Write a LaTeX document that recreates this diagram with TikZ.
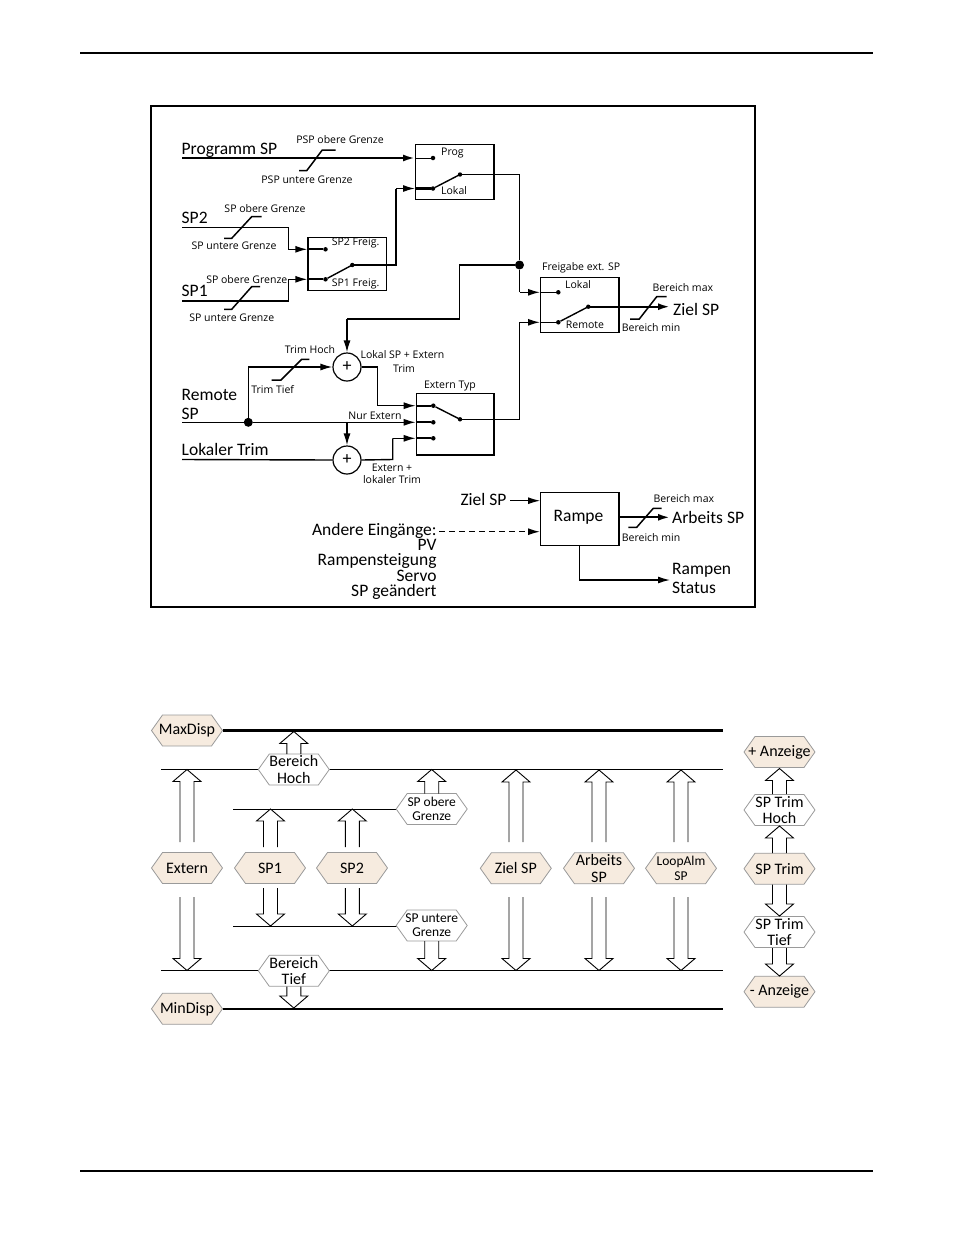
\documentclass[tikz,border=0pt]{standalone}
\usepackage{fontspec}
\setmainfont{Carlito}
\newfontfamily\smallf{Open Sans}
\usetikzlibrary{arrows.meta}
\definecolor{beige}{HTML}{F6EBDF}
\definecolor{hexline}{HTML}{9A9A9A}
\newcommand\hexnode[5]{%
  \filldraw[#4] ({#2-35.5},#3) -- ({#2-24.5},{#3-15.5}) -- ({#2+24.5},{#3-15.5}) -- ({#2+35.5},#3) -- ({#2+24.5},{#3+15.5}) -- ({#2-24.5},{#3+15.5}) -- cycle;
  \coordinate (#1-e) at ({#2+35.5},#3);
  \coordinate (#1-w) at ({#2-35.5},#3);
  \node[hextext] (#1) at (#2,#3) {#5};}
\newcommand\hollowup[3]{% x, tip y, bottom y
  \draw[hollow] ({#1-7},#3) -- ({#1-7},{#2+12}) -- ({#1-14},{#2+12}) -- (#1,#2) -- ({#1+14},{#2+12}) -- ({#1+7},{#2+12}) -- ({#1+7},#3);}
\newcommand\hollowdn[3]{% x, tip y, top y
  \draw[hollow] ({#1-7},#3) -- ({#1-7},{#2-12}) -- ({#1-14},{#2-12}) -- (#1,#2) -- ({#1+14},{#2-12}) -- ({#1+7},{#2-12}) -- ({#1+7},#3);}
\begin{document}
\begin{tikzpicture}[x=1pt,y=-1pt,
  frame/.style={line width=1.2pt},
  wire/.style={line width=1.4pt},
  fat/.style={line width=2.2pt},
  thinw/.style={line width=1pt},
  arr/.style={-{Latex[length=12pt,width=7pt]}},
  box/.style={draw,line width=1.2pt,inner sep=0,anchor=north west},
  lbl/.style={font=\smallf\fontsize{10.5}{12}\selectfont,inner sep=0},
  big/.style={font=\fontsize{17.5}{15}\selectfont,inner sep=0},
  bigml/.style={font=\fontsize{17.5}{15.4}\selectfont,inner sep=0},
  hextext/.style={font=\fontsize{16}{16.5}\selectfont,inner sep=0,align=center},
  hexb/.style={fill=beige,draw=hexline,line width=0.8pt},
  hexw/.style={fill=white,draw=hexline,line width=0.8pt},
  hollow/.style={line width=0.9pt,line join=miter},
  lim/.style={line width=1.5pt},
  cdot/.style={circle,fill,inner sep=0,minimum size=4.5pt},
  jdot/.style={circle,fill,inner sep=0,minimum size=9pt}]
\useasboundingbox (0,0) rectangle (954,1235);
% page rules
\draw[line width=1.2pt] (80,53) -- (873,53);
\draw[line width=1.2pt] (80,1171) -- (873,1171);
% frame
\draw[frame] (151,106) rectangle (755,607);

% boxes
\node[box,minimum width=78.3pt,minimum height=55pt] (progbox) at (415,144) {};
\node[box,minimum width=78.4pt,minimum height=53.3pt] (spbox) at (307.3,236.7) {};
\node[box,minimum width=78.3pt,minimum height=55pt] (fgbox) at (540,276.7) {};
\node[box,minimum width=77.6pt,minimum height=61.6pt] (extbox) at (415.7,392.7) {};
\node[box,minimum width=78.3pt,minimum height=53.3pt] (rampe) at (540,491.7) {};
\node[font=\fontsize{17.5}{15}\selectfont] at (578.5,517.3) {Rampe};

% contacts
\node[cdot] (progc) at (433,158) {};
\node[cdot] (lokc) at (433,188.5) {};
\coordinate (progpiv) at (460,174.5);
\node[cdot] (sp2c) at (325.5,249.3) {};
\node[cdot] (sp1c) at (325.5,279.3) {};
\coordinate (sppiv) at (352.3,265);
\node[cdot] (fglok) at (558.3,292.3) {};
\node[cdot] (fgrem) at (558.3,322.3) {};
\coordinate (fgpiv) at (588.3,306.7);
\node[cdot] (ex1) at (433.3,405.7) {};
\node[cdot] (ex2) at (433.3,422.3) {};
\node[cdot] (ex3) at (433.3,438.3) {};
\coordinate (expiv) at (460,419.3);
\fill (progpiv) circle (2.2pt) (sppiv) circle (2.2pt) (fgpiv) circle (2.2pt) (expiv) circle (2.2pt);
\draw[wire] (lokc) -- (progpiv);
\draw[wire] (sp1c) -- (sppiv);
\draw[wire] (fgrem) -- (fgpiv);
\draw[wire] (ex1) -- (expiv);

% sums
\node[draw,circle,line width=1.2pt,minimum size=28pt,inner sep=0,font=\fontsize{18}{18}\selectfont] (sum1) at (347,367) {+};
\node[draw,circle,line width=1.2pt,minimum size=28pt,inner sep=0,font=\fontsize{18}{18}\selectfont] (sum2) at (347,460) {+};
\node[jdot] (junc) at (519.5,265) {};
\node[jdot] (rjunc) at (248.3,422.3) {};

% Programm SP
\node[big,anchor=base west] at (181.5,154.5) {Programm SP};
\draw[fat,arr] (182,158) -- (415,158);
\draw[thinw] (415,158) -- (progc);
\draw[lim] (299,170.7) -- (306.7,170.7) -- (322.3,150) -- (335.7,150);
\node[lbl] at (340,140) {PSP obere Grenze};
\node[lbl] at (307,180) {PSP untere Grenze};
\node[lbl,anchor=west] at (441,153) {Prog};
\node[lbl,anchor=west] at (441,191) {Lokal};

% SP2 / SP1
\node[big,anchor=base west] at (181.5,223) {SP2};
\draw[wire] (182,227.7) -- (288.3,227.7) -- (288.3,249.3);
\draw[wire,arr] (288.3,249.3) -- (307.3,249.3);
\draw[fat] (307.3,249.3) -- (sp2c);
\draw[lim] (224,238.3) -- (231.7,238.3) -- (251.7,216.7) -- (261.7,216.7);
\node[lbl] at (265,209) {SP obere Grenze};
\node[lbl] at (234,246) {SP untere Grenze};
\node[big,anchor=base west] at (181.5,296.5) {SP1};
\draw[wire] (182,301) -- (288.3,301) -- (288.3,279.3);
\draw[wire,arr] (288.3,279.3) -- (307.3,279.3);
\draw[fat] (307.3,279.3) -- (sp1c);
\draw[lim] (224,309.3) -- (231.7,309.3) -- (251.7,286.7) -- (260,286.7);
\node[lbl] at (246.8,280) {SP obere Grenze};
\node[lbl] at (231.8,317.3) {SP untere Grenze};
\node[lbl,anchor=west] at (331.7,243.3) {SP2 Freig.};
\node[lbl,anchor=west] at (331.7,284.3) {SP1 Freig.};
\draw[wire] (sppiv) -- (396,265) -- (396,188.5);
\draw[wire,arr] (396,188.5) -- (415,188.5);
\draw[fat] (415,188.5) -- (lokc);

% prog output to Freigabe
\draw[wire] (progpiv) -- (519.5,174.5) -- (junc) -- (519.5,292.3);
\draw[wire,arr] (519.5,292.3) -- (540,292.3);
\draw[thinw] (540,292.3) -- (fglok);
\node[lbl] at (581.2,268) {Freigabe ext. SP};
\node[lbl,anchor=west] at (565,285) {Lokal};
\node[lbl,anchor=west] at (565.7,324.3) {Remote};
\draw[fat,arr] (fgpiv) -- (670,306.7);
\draw[lim] (630,319) -- (639.3,319) -- (656.7,296.7) -- (666.7,296.7);
\node[lbl,anchor=west] at (652.3,288) {Bereich max};
\node[lbl,anchor=west] at (621.7,327.3) {Bereich min};
\node[big,anchor=base west] at (673,315) {Ziel SP};

% local SP feedback to sum1
\draw[wire] (junc) -- (459.3,265) -- (459.3,319) -- (347,319);
\draw[wire,arr] (347,319) -- (sum1.north);

% Remote SP
\node[bigml,anchor=base west,align=left] at (181.5,419) {Remote\\[3.5pt]SP};
\draw[wire] (182,422.3) -- (rjunc);
\draw[wire,arr] (rjunc) -- (415.7,422.3);
\draw[fat] (415.7,422.3) -- (ex2);
\draw[wire] (rjunc) -- (248.3,367);
\draw[wire,arr] (248.3,367) -- (sum1.west);
\draw[lim] (271.7,380) -- (281,380) -- (301.7,359.3) -- (309.3,359.3);
\node[lbl] at (310,349.3) {Trim Hoch};
\node[lbl] at (272.7,389.3) {Trim Tief};
\node[lbl] at (402.5,355) {Lokal SP + Extern};
\node[lbl] at (404,368.3) {Trim};
\draw[wire] (sum1.east) -- (377.7,367) -- (377.7,405.7);
\draw[wire,arr] (377.7,405.7) -- (415.7,405.7);
\draw[fat] (415.7,405.7) -- (ex1);
\node[lbl] at (375,416) {Nur Extern};
\draw[wire,arr] (347,422.3) -- (sum2.north);
\node[big,anchor=base west] at (181.5,455) {Lokaler Trim};
\draw[wire] (182,459.5) -- (sum2.west);
\draw[wire] (sum2.east) -- (392.7,459.5) -- (392.7,438.3);
\draw[wire,arr] (392.7,438.3) -- (415.7,438.3);
\draw[fat] (415.7,438.3) -- (ex3);
\node[lbl,align=center] at (392,473.3) {Extern +\\lokaler Trim};
\node[lbl] at (450,385.7) {Extern Typ};
\draw[wire] (expiv) -- (519.5,419.3) -- (519.5,322.3);
\draw[wire,arr] (519.5,322.3) -- (540,322.3);
\draw[wire] (540,322.3) -- (fgrem);

% Rampe
\node[big,anchor=base east] (zin) at (506.7,505) {Ziel SP};
\draw[thinw,arr] (510,500.7) -- (540,500.7);
\node[bigml,anchor=base east,align=right] (andere) at (436.7,596.6) {Andere Eingänge:\\PV\\Rampensteigung\\Servo\\SP geändert};
\draw[wire,dashed,dash pattern=on 6pt off 4pt,arr] (439,531.7) -- (540,531.7);
\draw[fat,arr] (618.3,517.3) -- (670,517.3);
\draw[lim] (628.3,527.3) -- (636.7,527.3) -- (653.3,508.3) -- (661.7,508.3);
\node[lbl,anchor=west] at (653.3,498.3) {Bereich max};
\node[lbl,anchor=west] at (621.7,537.3) {Bereich min};
\node[big,anchor=base west] at (672,523.3) {Arbeits SP};
\draw[wire] (579.3,545) -- (579.3,580);
\draw[wire,arr] (579.3,580) -- (670,580);
\node[bigml,anchor=base west,align=left] at (672,593.3) {Rampen\\[3pt]Status};

% ===== lower diagram =====
\draw[line width=1pt] (161,769.5) -- (723.3,769.5);
\draw[line width=1pt] (161,970.7) -- (723.3,970.7);
\draw[line width=1pt] (233.3,809) -- (400,809);
\draw[line width=1pt] (233.3,926.5) -- (400,926.5);
\hexnode{maxdisp}{187}{730.5}{hexb}{MaxDisp}
\hexnode{mindisp}{187}{1008.8}{hexb}{MinDisp}
\draw[line width=2.5pt] (maxdisp-e) -- (723.3,730.5);
\draw[line width=2.5pt] (mindisp-e) -- (723.3,1008.8);
\hexnode{bhoch}{293.8}{769.5}{hexw}{Bereich\\Hoch}
\hexnode{btief}{293.8}{970.8}{hexw}{Bereich\\Tief}
\begin{scope}[hextext/.append style={font=\fontsize{13.5}{14}\selectfont}]
\hexnode{spob}{431.7}{809}{hexw}{SP obere\\Grenze}
\hexnode{spun}{431.7}{925.5}{hexw}{SP untere\\Grenze}
\end{scope}
\hexnode{extern}{187}{868}{hexb}{Extern}
\hexnode{hsp1}{270}{868}{hexb}{SP1}
\hexnode{hsp2}{352}{868}{hexb}{SP2}
\hexnode{ziel}{515.8}{868.3}{hexb}{Ziel SP}
\hexnode{arbeits}{599}{868.3}{hexb}{Arbeits\\SP}
\begin{scope}[hextext/.append style={font=\fontsize{13.5}{14.5}\selectfont}]
\hexnode{loopalm}{681}{868.3}{hexb}{LoopAlm\\SP}
\end{scope}
\hexnode{plusanz}{779.5}{752}{hexb}{+ Anzeige}
\hexnode{trimhoch}{779.5}{810}{hexw}{SP Trim\\Hoch}
\hexnode{sptrim}{779.5}{868.7}{hexb}{SP Trim}
\hexnode{trimtief}{779.5}{932}{hexw}{SP Trim\\Tief}
\hexnode{minusanz}{779.5}{991.7}{hexb}{- Anzeige}
% hollow arrows up
\hollowup{293.8}{731.5}{754}
\hollowup{431.7}{769.5}{793.5}
\hollowup{187}{769.5}{842}
\hollowup{270.5}{809}{847}
\hollowup{352.3}{809}{847}
\hollowup{516}{770}{842}
\hollowup{599}{770}{842}
\hollowup{681}{770}{842}
\hollowup{779.5}{768.5}{794}
\hollowup{779.5}{826}{853}
% hollow arrows down
\hollowdn{270.5}{926}{888}
\hollowdn{352.3}{926}{888}
\hollowdn{431.7}{970.5}{941}
\hollowdn{187}{970.5}{897}
\hollowdn{516}{970.5}{897}
\hollowdn{599}{970.5}{897}
\hollowdn{681}{970.5}{897}
\hollowdn{293.8}{1008}{986.5}
\hollowdn{779.5}{916}{884.5}
\hollowdn{779.5}{976}{948}
\end{tikzpicture}
\end{document}
